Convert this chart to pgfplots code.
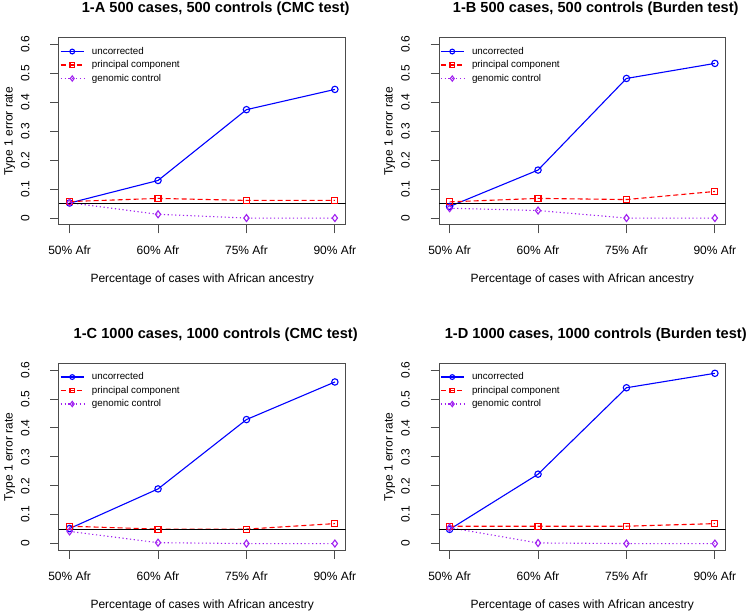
\documentclass[border=0pt]{standalone}
\usepackage{pgfplots}
\pgfplotsset{compat=1.18}
\usepackage{fontspec}
\setmainfont{Liberation Sans}
\definecolor{rblue}{HTML}{0000FF}
\definecolor{rred}{HTML}{FF0000}
\definecolor{rpurple}{HTML}{A020F0}
\pgfplotsset{
  every axis title shift=0pt,
  rpanel/.style={
    scale only axis, width=286.5pt, height=187.3pt,
    xmin=0.88, xmax=4.12, ymin=-0.024, ymax=0.624,
    xtick={1,2,3,4}, xticklabels={50\% Afr,60\% Afr,75\% Afr,90\% Afr},
    ytick={0,0.1,0.2,0.3,0.4,0.5,0.6}, yticklabels={0,0.1,0.2,0.3,0.4,0.5,0.6},
    tick align=outside, major tick length=8.5pt,
    xtick pos=bottom, ytick pos=left,
    axis line style={black!70, line width=1pt},
    every tick/.style={black!70, line width=1pt},
    xticklabel style={font=\fontsize{12}{14}\selectfont, anchor=base, inner sep=0pt},
    xticklabel shift=21.5pt,
    yticklabel style={font=\fontsize{12}{14}\selectfont, rotate=90, anchor=base, inner sep=0pt},
    yticklabel shift=21pt,
    title style={at={(axis description cs:0.547,1.132)}, anchor=base, yshift=0pt, inner sep=0pt, font=\bfseries\fontsize{14.6}{17}\selectfont},
    xlabel={Percentage of cases with African ancestry},
    xlabel style={at={(axis description cs:0.5,-0.308)}, anchor=base, inner sep=0pt, font=\fontsize{12}{14}\selectfont},
    ylabel={Type 1 error rate},
    ylabel style={at={(axis description cs:-0.1616,0.5)}, anchor=base, rotate=0, inner sep=0pt, font=\fontsize{12}{14}\selectfont},
    legend style={at={(axis description cs:0,1)}, anchor=north west, xshift=1pt, yshift=-9pt,
      draw=none, fill=none, inner xsep=0pt, inner ysep=0pt, font=\fontsize{9.8}{11}\selectfont,
      nodes={inner sep=0pt, text height=7.3pt, text depth=2pt},
      row sep=4.2pt,
      /tikz/every odd column/.append style={column sep=7.7pt}},
    legend cell align=left,
    legend image code/.code={\draw[mark repeat=2,mark phase=2,##1,every mark/.append style={scale=0.75}] plot coordinates {(0pt,0pt) (11.5pt,0pt) (23pt,0pt)};},
  },
  sU/.style={color=rblue, line width=1.1pt, mark=o, mark size=3.2pt, mark options={solid}},
  sP/.style={color=rred, line width=1.1pt, dash pattern=on 5pt off 3pt, mark=square, mark size=3pt, mark options={solid}},
  sG/.style={color=rpurple, line width=1.1pt, dash pattern=on 1.2pt off 2.6pt, mark=diamond, mark size=3.5pt, mark options={solid}},
}
\begin{document}
\begin{tikzpicture}
\useasboundingbox (0,0) rectangle (750pt,612pt);
% Panel A
\begin{axis}[rpanel, at={(59pt,387pt)}, anchor=south west, title={1-A 500 cases, 500 controls (CMC test)}]
\addplot[sU] coordinates {(1,0.052) (2,0.130) (3,0.375) (4,0.445)};
\addplot[sP] coordinates {(1,0.057) (2,0.068) (3,0.061) (4,0.061)};
\addplot[sG] coordinates {(1,0.053) (2,0.013) (3,0.000) (4,0.000)};
\addplot[black, line width=0.9pt, forget plot] coordinates {(0.88,0.05) (4.12,0.05)};
\legend{uncorrected,principal component,genomic control}
\end{axis}
% Panel B
\begin{axis}[rpanel, at={(439pt,387pt)}, anchor=south west, title={1-B 500 cases, 500 controls (Burden test)}]
\addplot[sU] coordinates {(1,0.040) (2,0.166) (3,0.483) (4,0.535)};
\addplot[sP] coordinates {(1,0.056) (2,0.068) (3,0.064) (4,0.092)};
\addplot[sG] coordinates {(1,0.034) (2,0.026) (3,0.000) (4,0.000)};
\addplot[black, line width=0.9pt, forget plot] coordinates {(0.88,0.05) (4.12,0.05)};
\legend{uncorrected,principal component,genomic control}
\end{axis}
% Panel C
\begin{axis}[rpanel, at={(59pt,61.5pt)}, anchor=south west, title={1-C 1000 cases, 1000 controls (CMC test)}]
\addplot[sU] coordinates {(1,0.052) (2,0.189) (3,0.429) (4,0.559)};
\addplot[sP] coordinates {(1,0.060) (2,0.050) (3,0.050) (4,0.069)};
\addplot[sG] coordinates {(1,0.042) (2,0.003) (3,0.000) (4,0.000)};
\addplot[black, line width=0.9pt, forget plot] coordinates {(0.88,0.05) (4.12,0.05)};
\legend{uncorrected,principal component,genomic control}
\end{axis}
% Panel D
\begin{axis}[rpanel, at={(439pt,61.5pt)}, anchor=south west, title={1-D 1000 cases, 1000 controls (Burden test)}]
\addplot[sU] coordinates {(1,0.049) (2,0.240) (3,0.539) (4,0.589)};
\addplot[sP] coordinates {(1,0.060) (2,0.060) (3,0.060) (4,0.069)};
\addplot[sG] coordinates {(1,0.055) (2,0.002) (3,0.000) (4,0.000)};
\addplot[black, line width=0.9pt, forget plot] coordinates {(0.88,0.05) (4.12,0.05)};
\legend{uncorrected,principal component,genomic control}
\end{axis}
\end{tikzpicture}
\end{document}
